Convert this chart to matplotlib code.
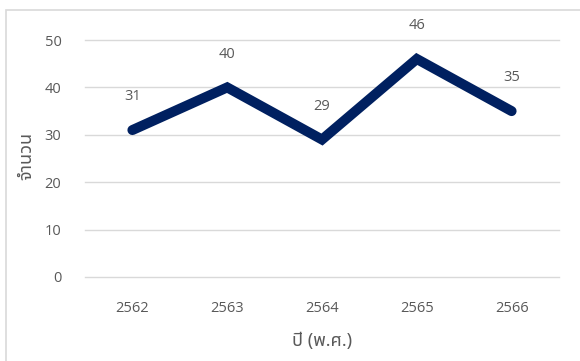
import matplotlib
matplotlib.use("Agg")
import matplotlib.pyplot as plt
from matplotlib.patches import Rectangle

years = ["2562", "2563", "2564", "2565", "2566"]
counts = [31, 40, 29, 46, 35]
y_ticks = [0, 10, 20, 30, 40, 50]
x_title = "ปี (พ.ศ.)"
y_title = "จำนวน"

line_color = "#002060"
text_color = "#595959"
grid_color = "#d9d9d9"

plt.rcParams["font.family"] = ["Open Sans", "Noto Sans Thai", "DejaVu Sans"]
thai_fonts = ["Noto Sans Thai", "Open Sans", "DejaVu Sans"]

fig = plt.figure(figsize=(5.8, 3.61), dpi=100)
ax = fig.add_axes([85 / 580, 1 - 277 / 361, 474 / 580, 237 / 361])

xs = range(len(years))
ax.plot(xs, counts, color=line_color, lw=7.2, solid_capstyle="round", solid_joinstyle="miter")
for x, v in zip(xs, counts):
    ax.annotate(str(v), (x, v), xytext=(0, 24), textcoords="offset points",
                ha="center", va="center", fontsize=10.5, color=text_color)

ax.set_xlim(-0.5, len(years) - 0.5)
ax.set_ylim(0, 50)
ax.set_yticks(y_ticks)
ax.set_xticks(list(xs))
ax.set_xticklabels(years)
ax.yaxis.grid(True, color=grid_color, lw=1)
for gl in ax.get_ygridlines():
    gl.set_clip_on(False)
ax.set_axisbelow(True)
for s in ax.spines.values():
    s.set_visible(False)
ax.tick_params(length=0, labelsize=10.5, labelcolor=text_color)
ax.tick_params(axis="y", pad=17)
ax.tick_params(axis="x", pad=17)

ax.set_xlabel(x_title, fontsize=13, color=text_color, family=thai_fonts)
ax.xaxis.set_label_coords(0.5, -55 / 237)
ax.set_ylabel(y_title, fontsize=13, color=text_color, family=thai_fonts)
ax.yaxis.set_label_coords(-50 / 474, 0.51)

fig.add_artist(Rectangle((6 / 580, -0.1), 1.2, 1 - 10 / 361 + 0.1, transform=fig.transFigure,
                         fill=False, ec=grid_color, lw=1.2))

fig.savefig("out.png", dpi=100)
